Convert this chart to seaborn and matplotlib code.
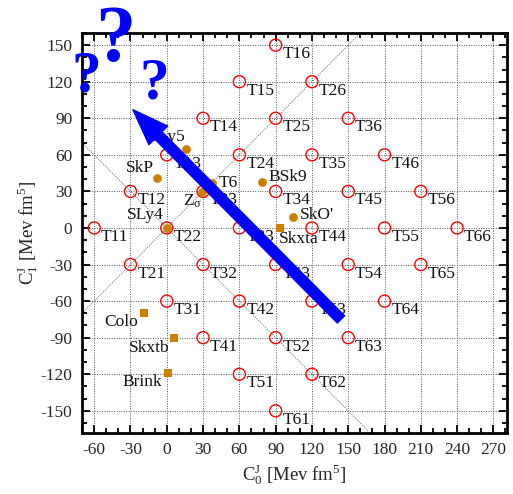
import matplotlib
matplotlib.use("Agg")
import matplotlib.pyplot as plt
import seaborn as sns
import pandas as pd
from matplotlib.ticker import MultipleLocator

# ---- data ----
t_names = ["T11", "T12", "T13", "T14", "T15", "T16",
           "T21", "T22", "T23", "T24", "T25", "T26",
           "T31", "T32", "T33", "T34", "T35", "T36",
           "T41", "T42", "T43", "T44", "T45", "T46",
           "T51", "T52", "T53", "T54", "T55", "T56",
           "T61", "T62", "T63", "T64", "T65", "T66"]
t_c0 = [-60, -30, 0, 30, 60, 90,
        -30, 0, 30, 60, 90, 120,
        0, 30, 60, 90, 120, 150,
        30, 60, 90, 120, 150, 180,
        60, 90, 120, 150, 180, 210,
        90, 120, 150, 180, 210, 240]
t_c1 = [0, 30, 60, 90, 120, 150,
        -30, 0, 30, 60, 90, 120,
        -60, -30, 0, 30, 60, 90,
        -90, -60, -30, 0, 30, 60,
        -120, -90, -60, -30, 0, 30,
        -150, -120, -90, -60, -30, 0]

circ_names = ["SLy5", "SkP", "T6", "Z$_\\sigma$", "SLy4", "BSk9", "SkO'"]
circ_c0 = [16, -8, 37.5, 29, 0, 79, 104]
circ_c1 = [65, 41, 37, 29.5, 0, 38, 9]

sq_names = ["Skxta", "Colo", "Skxtb", "Brink"]
sq_c0 = [94, -19, 6, 1]
sq_c1 = [0, -70, -90, -119]

arrow_tail = (144, -75)
arrow_head = (-28, 97)

x_ticks = [-60, -30, 0, 30, 60, 90, 120, 150, 180, 210, 240, 270]
y_ticks = [-150, -120, -90, -60, -30, 0, 30, 60, 90, 120, 150]

# ---- style ----
sns.set_theme(style="ticks")
plt.rcParams["font.family"] = ["Liberation Serif", "DejaVu Serif"]
plt.rcParams["mathtext.fontset"] = "custom"
plt.rcParams["mathtext.rm"] = "Liberation Serif"
plt.rcParams["mathtext.it"] = "Liberation Serif"
plt.rcParams["mathtext.bf"] = "Liberation Serif:bold"
plt.rcParams["axes.unicode_minus"] = False

FS = 12.5
ORANGE = "#cc8000"

fig = plt.figure(figsize=(5.13, 4.94), dpi=100)
ax = fig.add_axes([0.160, 0.124, 0.8277, 0.8093])

ax.set_xlim(-70, 281)
ax.set_ylim(-168, 160)

# diagonal guide lines
ax.axline((0, 0), slope=1, color="#666666", lw=0.6, ls=(0, (1.5, 1.5)), zorder=1)
ax.axline((0, 0), slope=-1, color="#666666", lw=0.6, ls=(0, (1.5, 1.5)), zorder=1)

df_t = pd.DataFrame({"c0": t_c0, "c1": t_c1, "name": t_names})
sns.scatterplot(data=df_t, x="c0", y="c1", ax=ax, marker="o", s=75,
                facecolor="none", edgecolor="#ff0000", linewidth=1.0, zorder=3)
for n, x, y in zip(t_names, t_c0, t_c1):
    ax.annotate(n, (x, y), xytext=(5, -6.5), textcoords="offset points",
                ha="left", va="center", fontsize=FS, color="#111111", zorder=4)

df_c = pd.DataFrame({"c0": circ_c0, "c1": circ_c1})
sns.scatterplot(data=df_c, x="c0", y="c1", ax=ax, marker="o", s=40,
                color=ORANGE, edgecolor=ORANGE, linewidth=0, zorder=5)
df_s = pd.DataFrame({"c0": sq_c0, "c1": sq_c1})
sns.scatterplot(data=df_s, x="c0", y="c1", ax=ax, marker="s", s=40,
                color=ORANGE, edgecolor=ORANGE, linewidth=0, zorder=5)

lab_off = {
    "SLy5": ((0, 8.6), "right"),
    "SkP": ((-2.5, 7), "right"),
    "T6": ((4.8, 0), "left"),
    "Z$_\\sigma$": ((0, -7), "right"),
    "SLy4": ((-2, 9), "right"),
    "BSk9": ((4.3, 3.6), "left"),
    "SkO'": ((5, 1.2), "left"),
    "Skxta": ((-1, -7.7), "left"),
    "Colo": ((-4.3, -6), "right"),
    "Skxtb": ((-3.6, -7.2), "right"),
    "Brink": ((-4, -6.5), "right"),
}
for n, x, y in list(zip(circ_names, circ_c0, circ_c1)) + list(zip(sq_names, sq_c0, sq_c1)):
    off, ha = lab_off[n]
    ax.annotate(n, (x, y), xytext=off, textcoords="offset points",
                ha=ha, va="center", fontsize=FS, color="#111111", zorder=4)

# blue arrow
ax.annotate("", xy=arrow_head, xytext=arrow_tail,
            arrowprops=dict(arrowstyle="simple,head_length=1.3,head_width=0.95,tail_width=0.37",
                            color="#0000ff", mutation_scale=20, shrinkA=0, shrinkB=0),
            zorder=8)

# question marks
qkw = dict(color="#0000ff", fontweight="bold", ha="center", va="center",
           clip_on=False, zorder=9, family="Liberation Serif")
fig.text(115 / 513, 1 - 42 / 494, "?", fontsize=58, **qkw)
fig.text(86 / 513, 1 - 77 / 494, "?", fontsize=43, **qkw)
fig.text(154 / 513, 1 - 84 / 494, "?", fontsize=43, **qkw)

# axes styling
ax.set_xticks(x_ticks)
ax.set_yticks(y_ticks)
ax.xaxis.set_minor_locator(MultipleLocator(10))
ax.yaxis.set_minor_locator(MultipleLocator(10))
ax.tick_params(which="both", direction="in", top=True, right=True, color="black")
ax.tick_params(which="major", length=6, width=1.3, labelsize=FS, pad=7)
ax.tick_params(which="minor", length=3.5, width=1.3)
ax.grid(True, which="major", color="#555555", lw=0.7, ls=(0, (1, 1.5)), zorder=0)
for sp in ax.spines.values():
    sp.set_linewidth(2.0)
    sp.set_color("black")

ax.set_xlabel("C$^{\\mathrm{J}}_{0}$ [Mev fm$^{5}$]", fontsize=13.5, labelpad=3)
ax.set_ylabel("C$^{\\mathrm{J}}_{1}$ [Mev fm$^{5}$]", fontsize=13.5, labelpad=0)

fig.savefig("out.png", dpi=100)
